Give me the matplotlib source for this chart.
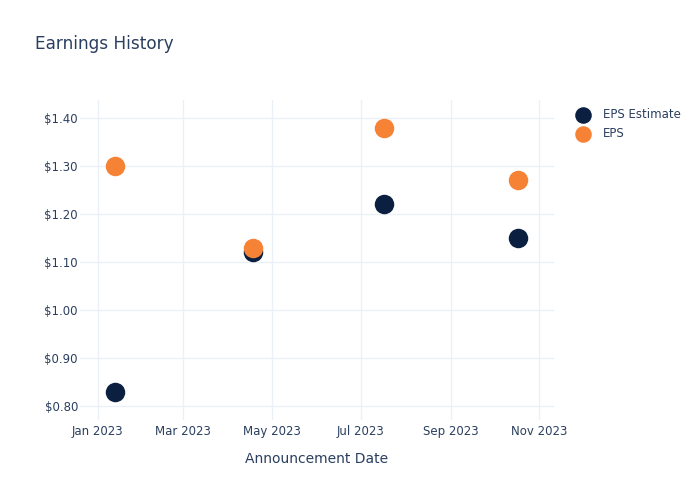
import matplotlib
matplotlib.use("Agg")
import matplotlib.pyplot as plt
import matplotlib.dates as mdates
from matplotlib.ticker import FuncFormatter, FixedLocator
import datetime as dt

dates = ["2023-01-13", "2023-04-18", "2023-07-17", "2023-10-17"]
eps_estimate = [0.83, 1.12, 1.22, 1.15]
eps_actual = [1.30, 1.13, 1.38, 1.27]
x_ticks = ["2023-01-01", "2023-03-01", "2023-05-01", "2023-07-01", "2023-09-01", "2023-11-01"]
x_ticklabels = ["Jan 2023", "Mar 2023", "May 2023", "Jul 2023", "Sep 2023", "Nov 2023"]
y_ticks = [0.80, 0.90, 1.00, 1.10, 1.20, 1.30, 1.40]

TEXT = "#2a3f5f"
GRID = "#ebf0f8"
NAVY = "#0b1f41"
ORANGE = "#f68236"

to_d = lambda s: dt.datetime.strptime(s, "%Y-%m-%d")
xd = [to_d(d) for d in dates]

fig = plt.figure(figsize=(7, 5), dpi=100)
ax = fig.add_axes([80/700, 1-420/500, 474/700, 320/500])

s = 19.5 * 72 / 100
ax.scatter(xd, eps_estimate, s=s**2, color=NAVY, zorder=3, linewidths=0, label="EPS Estimate")
ax.scatter(xd, eps_actual, s=s**2, color=ORANGE, zorder=3, linewidths=0, label="EPS")

ax.set_xlim(to_d("2022-12-19") + dt.timedelta(hours=20), to_d("2023-11-11"))
ax.set_ylim(0.771, 1.4375)

ax.xaxis.set_major_locator(FixedLocator([mdates.date2num(to_d(t)) for t in x_ticks]))
ax.set_xticklabels(x_ticklabels)
ax.set_yticks(y_ticks)
ax.yaxis.set_major_formatter(FuncFormatter(lambda v, p: f"${v:.2f}"))

for sp in ax.spines.values():
    sp.set_visible(False)
ax.grid(True, color=GRID, linewidth=1, zorder=0)
ax.set_axisbelow(True)
ax.tick_params(length=0, labelsize=8.5, colors=TEXT)
ax.tick_params(axis="x", pad=3.5)
ax.tick_params(axis="y", pad=1.5)

ax.set_xlabel("Announcement Date", fontsize=10.0, color=TEXT, labelpad=10)
fig.text(35/700, 1-44/500, "Earnings History", fontsize=12.2, color=TEXT, va="center", ha="left")

leg = ax.legend(loc="upper left", bbox_to_anchor=(566/700, 1-103/500), bbox_transform=fig.transFigure,
                frameon=False, fontsize=8.5, labelcolor=TEXT, markerscale=0.85,
                handletextpad=0.75, labelspacing=0.55, borderaxespad=0)

fig.savefig("out.png", dpi=100)
